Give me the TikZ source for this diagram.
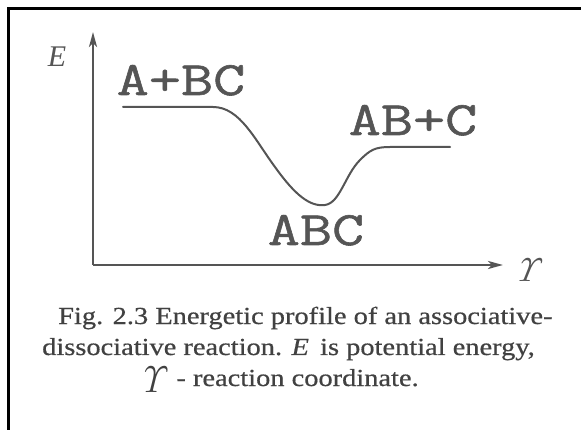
\documentclass[tikz,border=0pt]{standalone}
\usepackage[no-math]{fontspec}
\setmainfont{Liberation Serif}
\newfontfamily\speciesfont[FakeStretch=1.3, FakeBold=1.2]{Latin Modern Mono}
\newfontfamily\capfont[FakeStretch=1.16, FakeBold=0.6]{Liberation Serif}
\usepackage{xcolor}
\usetikzlibrary{arrows.meta, positioning}
\definecolor{ink}{RGB}{85, 85, 85}
\definecolor{capink}{RGB}{65, 65, 65}
\definecolor{frame}{RGB}{0, 0, 0}
\newcommand{\rcoord}{\raisebox{-6pt}{\scalebox{1.5}{$\mathit{\Upsilon}$}}}
\tikzset{
    axis/.style={-{Stealth[length=15pt, width=8pt, inset=4pt]}, line width=2.4pt, ink},
    profile/.style={line width=2pt, ink, line cap=round},
    species/.style={font=\speciesfont\fontsize{48}{48}\selectfont, text=ink, inner sep=0pt},
    caption/.style={font=\capfont\fontsize{24.5}{31}\selectfont, text=capink, inner sep=0pt, anchor=base west}
}

\begin{document}
\begin{tikzpicture}[x=1pt, y=-1pt]
        \useasboundingbox (0,0) rectangle (581,430);
        \draw[frame, line width=3pt] (8.5,432) -- (8.5,8.5) -- (583,8.5);

        \coordinate (origin) at (93,265);
        \coordinate (etop) at (93,32);
        \coordinate (rend) at (503,265);
        \draw[axis] (origin) -- (etop);
        \draw[axis] (origin) -- (rend);
        \node[font=\itshape\fontsize{30}{30}\selectfont, text=ink] (elabel) at (57,57) {E};
        \node[xslant=0.15, text=ink, scale=3.3] (rlabel) at (528,270) {$\mathit{\Upsilon}$};

        \coordinate (start) at (123,107);
        \coordinate (finish) at (450,147);
        \draw[profile] (start) -- (213,107)
            .. controls (240,107) and (255,140) .. (275,167)
            .. controls (295,195) and (310,207) .. (325,205)
            .. controls (340,203) and (345,175) .. (360,160)
            .. controls (370,150) and (375,147) .. (390,147) -- (finish);

        \node[species, anchor=base] (reactants) at (181,95) {A+BC};
        \node[species, anchor=base] (complex) at (316,245) {ABC};
        \node[species, anchor=base] (products) at (413,135) {AB+C};

        % caption, line by line
        \node[caption] (capa) at (58,324) {Fig. 2.3 Energetic profile of an associative-};
        \node[caption] (capb) at (42,355) {dissociative reaction. \textit{E}\, is potential energy,};
        \node[caption] (capc) at (137,386) {\rcoord\ - reaction coordinate.};
    \end{tikzpicture}
\end{document}
